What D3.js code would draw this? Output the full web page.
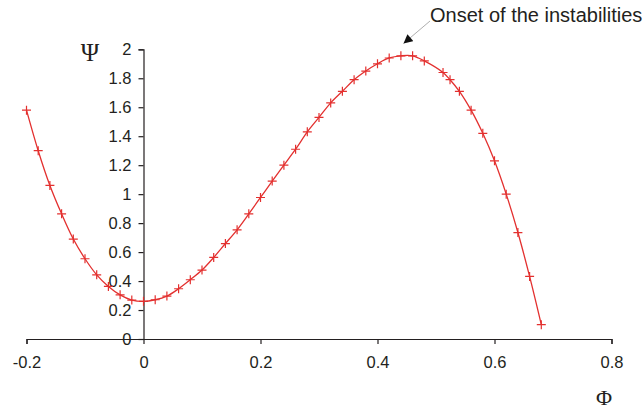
<!DOCTYPE html>
<html>
<head>
<meta charset="utf-8">
<script src="https://cdn.jsdelivr.net/npm/d3@7/dist/d3.min.js"></script>
<style>
  html, body { margin: 0; padding: 0; background: #fff; }
  svg { display: block; }
  text { font-family: "Liberation Sans", Arial, Helvetica, sans-serif; fill: #231f20; }
</style>
</head>
<body>
<svg id="chart" width="643" height="410"></svg>
<script>
const phi = [-0.20, -0.18, -0.16, -0.14, -0.12, -0.10, -0.08, -0.06, -0.04, -0.02,
  0.00, 0.02, 0.04, 0.06, 0.08, 0.10, 0.12, 0.14, 0.16, 0.18,
  0.20, 0.22, 0.24, 0.26, 0.28, 0.30, 0.32, 0.34, 0.36, 0.38,
  0.40, 0.42, 0.44, 0.46, 0.48, 0.512, 0.524, 0.54, 0.56, 0.58,
  0.60, 0.62, 0.64, 0.66, 0.68];
const psi = [1.58, 1.30, 1.06, 0.864, 0.69, 0.554, 0.443, 0.363, 0.305, 0.269,
  0.260, 0.271, 0.296, 0.347, 0.409, 0.476, 0.563, 0.659, 0.754, 0.864,
  0.977, 1.09, 1.20, 1.31, 1.43, 1.53, 1.63, 1.71, 1.79, 1.85,
  1.90, 1.94, 1.955, 1.955, 1.92, 1.84, 1.79, 1.71, 1.58, 1.42,
  1.23, 1.00, 0.735, 0.432, 0.099];
const xTicks = [-0.2, 0, 0.2, 0.4, 0.6, 0.8];
const yTicks = [0, 0.2, 0.4, 0.6, 0.8, 1, 1.2, 1.4, 1.6, 1.8, 2];
const xLabel = "Φ";
const yLabel = "Ψ";
const annotation = "Onset of the instabilities";

const data = phi.map((p, i) => ({x: p, y: psi[i]}));
const svg = d3.select("#chart");
const x = d3.scaleLinear().domain([-0.2, 0.8]).range([26.5, 611.5]);
const y = d3.scaleLinear().domain([0, 2]).range([339, 49.3]);
const axisColor = "#231f20";
const fmt = d => String(+d.toFixed(1)); // plain hyphen-minus like the original

// x axis
const gx = svg.append("g").attr("transform", `translate(0,${y(0)})`)
  .call(d3.axisBottom(x).tickValues(xTicks).tickSize(5).tickPadding(12).tickFormat(fmt));
// y axis
const gy = svg.append("g").attr("transform", `translate(${x(0)},0)`)
  .call(d3.axisLeft(y).tickValues(yTicks).tickSize(5).tickPadding(7).tickFormat(fmt));
[gx, gy].forEach(g => {
  g.selectAll("path.domain").attr("stroke", axisColor).attr("stroke-width", 1.2);
  g.selectAll(".tick line").attr("stroke", axisColor).attr("stroke-width", 1.2);
  g.selectAll(".tick text").attr("font-size", 16.5).attr("fill", axisColor)
    .style("font-family", '"Liberation Sans", Arial, sans-serif');
});

// curve
const line = d3.line().x(d => x(d.x)).y(d => y(d.y)).curve(d3.curveCatmullRom.alpha(0.5));
svg.append("path").datum(data).attr("d", line)
  .attr("fill", "none").attr("stroke", "#e3302f").attr("stroke-width", 1.3);

// + markers
const m = 4.5;
const mk = svg.append("g").attr("stroke", "#e3302f").attr("stroke-width", 1.2);
mk.selectAll("path").data(data).join("path")
  .attr("d", d => `M${x(d.x)-m},${y(d.y)}H${x(d.x)+m}M${x(d.x)},${y(d.y)-m}V${y(d.y)+m}`);

// axis titles
svg.append("text").attr("x", 90).attr("y", 61).attr("text-anchor", "middle")
  .attr("font-size", 25).style("font-family", '"Liberation Serif", "DejaVu Serif", serif').text(yLabel);
svg.append("text").attr("x", 604).attr("y", 405).attr("text-anchor", "middle")
  .attr("font-size", 22).style("font-family", '"Liberation Serif", "DejaVu Serif", serif').text(xLabel);

// annotation
svg.append("defs").append("marker").attr("id", "ah").attr("viewBox", "0 0 10 10")
  .attr("refX", 10).attr("refY", 5).attr("markerWidth", 10).attr("markerHeight", 9)
  .attr("markerUnits", "userSpaceOnUse").attr("orient", "auto")
  .append("path").attr("d", "M0,0L10,5L0,10z").attr("fill", "#111");
svg.append("line").attr("x1", 430).attr("y1", 21).attr("x2", 403.5).attr("y2", 43.5)
  .attr("stroke", "#999").attr("stroke-width", 0.8).attr("marker-end", "url(#ah)");
svg.append("text").attr("x", 430).attr("y", 22).attr("font-size", 20).text(annotation);
</script>
</body>
</html>
